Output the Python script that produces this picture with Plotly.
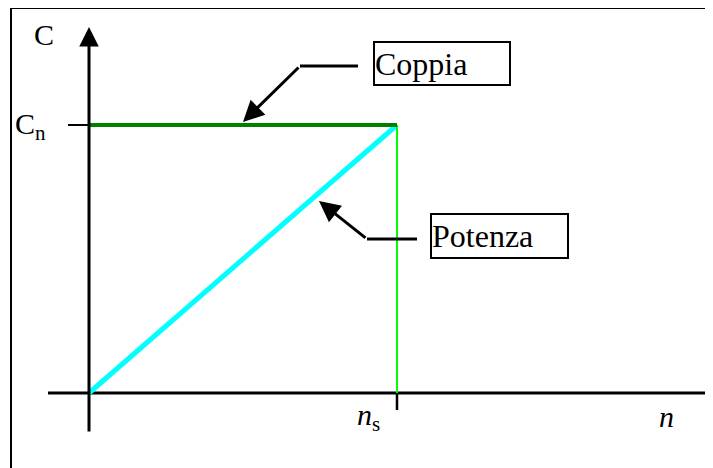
import plotly.graph_objects as go

# ---- data (conceptual, normalised) ----
n_values = [0.0, 1.0]          # 0 .. n_s
coppia = [1.0, 1.0]            # constant torque C_n
potenza = [0.0, 1.0]           # power rising linearly to n_s
ns_value = 1.0
cn_value = 1.0

W, H = 713, 468
OFF = 8  # page body margin
FW, FH = W - OFF, H - OFF
OX, OY, SX, SY = 89, 393, 308, 268
def X(px):
    return (px - OX) / SX
def Y(py):
    return (OY - py) / SY

FONT = "Liberation Serif"

fig = go.Figure()

fig.add_trace(go.Scatter(x=n_values, y=potenza, mode="lines",
                         line=dict(color="#00FFFF", width=5), hoverinfo="skip"))
fig.add_trace(go.Scatter(x=[ns_value, ns_value], y=[0, cn_value], mode="lines",
                         line=dict(color="#00FF00", width=2), hoverinfo="skip"))
fig.add_trace(go.Scatter(x=n_values, y=coppia, mode="lines",
                         line=dict(color="#008000", width=4), hoverinfo="skip"))

shapes = []
shapes.append(dict(type="rect", xref="x", yref="y",
                   x0=X(11), x1=X(W + 20), y0=Y(H + 20), y1=Y(8),
                   line=dict(color="black", width=2), layer="below"))
shapes.append(dict(type="line", x0=X(48), x1=X(W), y0=0, y1=0,
                   line=dict(color="black", width=3), layer="below"))
shapes.append(dict(type="line", x0=X(711.5), x1=X(711.5), y0=Y(386), y1=Y(400),
                   line=dict(color="black", width=2)))
shapes.append(dict(type="line", x0=ns_value, x1=ns_value, y0=0, y1=Y(410),
                   line=dict(color="black", width=2.5)))
shapes.append(dict(type="line", x0=X(68), x1=0, y0=cn_value, y1=cn_value,
                   line=dict(color="black", width=2)))
shapes.append(dict(type="line", x0=X(358), x1=X(300), y0=Y(66), y1=Y(66),
                   line=dict(color="black", width=3)))
shapes.append(dict(type="line", x0=X(417), x1=X(367), y0=Y(239), y1=Y(239),
                   line=dict(color="black", width=3)))

annotations = []
annotations.append(dict(x=0, y=Y(27), ax=0, ay=Y(433), xref="x", yref="y",
                        axref="x", ayref="y", text="", showarrow=True,
                        arrowhead=2, arrowsize=1.3, arrowwidth=3, arrowcolor="black"))
annotations.append(dict(x=X(243), y=Y(122), ax=X(300), ay=Y(66), xref="x", yref="y",
                        axref="x", ayref="y", text="", showarrow=True,
                        arrowhead=2, arrowsize=1.4, arrowwidth=3, arrowcolor="black"))
annotations.append(dict(x=X(319), y=Y(201), ax=X(367), ay=Y(239), xref="x", yref="y",
                        axref="x", ayref="y", text="", showarrow=True,
                        arrowhead=2, arrowsize=1.4, arrowwidth=3, arrowcolor="black"))
annotations.append(dict(x=X(373), y=Y(41), xanchor="left", yanchor="top",
                        text="Coppia", showarrow=False, align="left",
                        width=134, height=41, borderpad=0, bordercolor="black",
                        borderwidth=2, bgcolor="white",
                        font=dict(family=FONT, size=32, color="black")))
annotations.append(dict(x=X(430), y=Y(213), xanchor="left", yanchor="top",
                        text="Potenza", showarrow=False, align="left",
                        width=135, height=42, borderpad=0, bordercolor="black",
                        borderwidth=2, bgcolor="white",
                        font=dict(family=FONT, size=32, color="black")))
annotations.append(dict(x=X(44), y=Y(34), text="C", showarrow=False,
                        font=dict(family=FONT, size=30, color="black")))
annotations.append(dict(x=X(30), y=Y(126), text="C<sub>n</sub>", showarrow=False,
                        font=dict(family=FONT, size=30, color="black")))
annotations.append(dict(x=X(368), y=Y(417), text="<i>n</i><sub>s</sub>", showarrow=False,
                        font=dict(family=FONT, size=30, color="black")))
annotations.append(dict(x=X(666), y=Y(416), text="<i>n</i>", showarrow=False,
                        font=dict(family=FONT, size=30, color="black")))

fig.update_layout(
    width=FW, height=FH, margin=dict(l=0, r=0, t=0, b=0),
    paper_bgcolor="white", plot_bgcolor="white", showlegend=False,
    xaxis=dict(range=[X(OFF), X(W)], visible=False, fixedrange=True),
    yaxis=dict(range=[Y(H), Y(OFF)], visible=False, fixedrange=True),
    shapes=shapes, annotations=annotations,
)

fig.write_html("out.html", config={"displayModeBar": False})
